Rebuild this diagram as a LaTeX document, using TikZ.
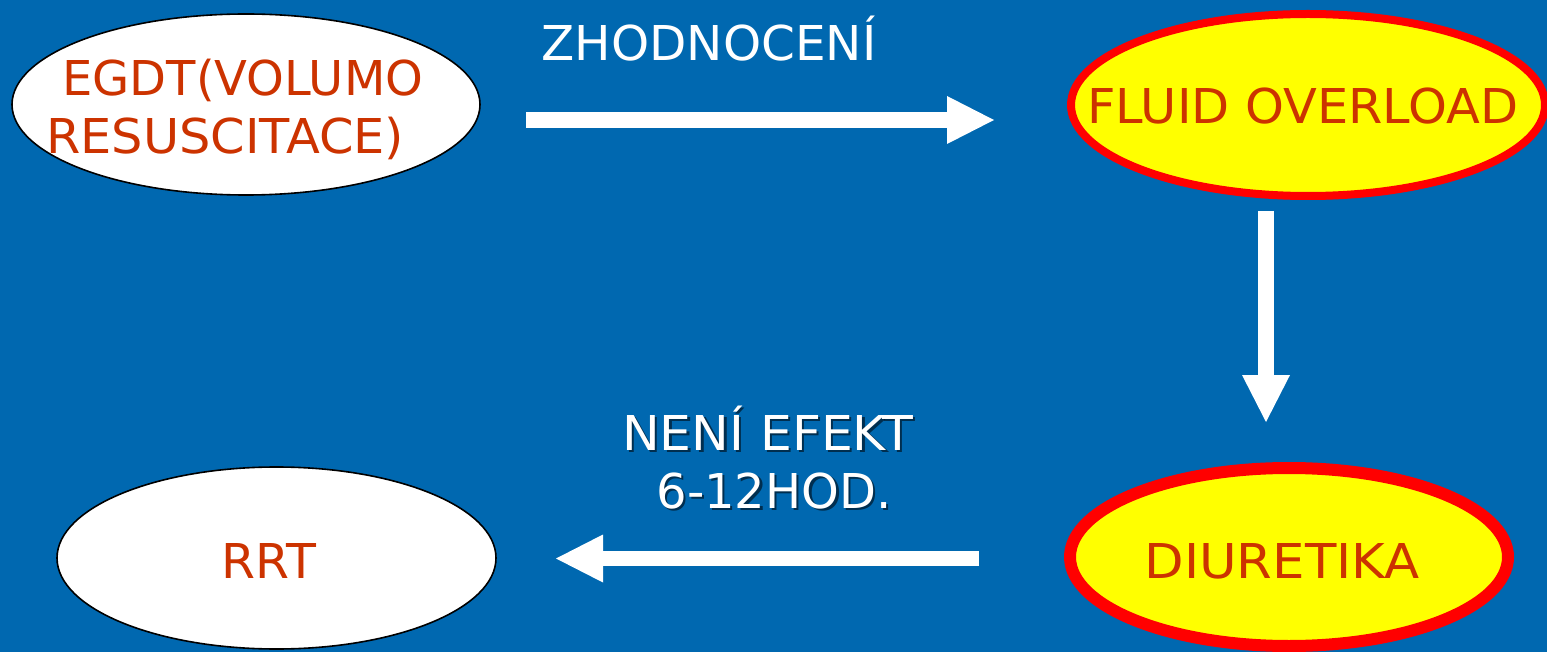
\documentclass[tikz,border=0pt]{standalone}
\usepackage{fontspec}
\setmainfont{DejaVu Sans}
\usetikzlibrary{shapes.geometric,arrows.meta}

\definecolor{slideblue}{RGB}{0,104,176}
\definecolor{labelred}{RGB}{204,51,0}
\definecolor{hotred}{RGB}{255,0,0}
\definecolor{hotyellow}{RGB}{255,255,0}

\tikzset{
  plainoval/.style={ellipse, draw=black, line width=1.6pt, fill=white, inner sep=0pt},
  alertoval/.style={ellipse, draw=hotred, fill=hotyellow, inner sep=0pt},
  ovaltext/.style={text=labelred, inner sep=0pt, anchor=base,
    font=\fontsize{48}{58}\selectfont},
  captext/.style={text=white, inner sep=0pt, anchor=base,
    font=\fontsize{48}{58}\selectfont},
  shadowtext/.style={captext, text=black, opacity=0.55},
  blockarrow/.style={draw=white, line width=16pt,
    -{Triangle[length=47pt,width=48pt,line width=0pt]}}
}
% horizontal stretch of a label
\newcommand{\wide}[2]{\scalebox{#1}[1]{#2}}

\begin{document}
\begin{tikzpicture}[x=1pt,y=-1pt]
  % slide background
  \fill[slideblue] (0,0) rectangle (1547,652);
  \useasboundingbox (0,0) rectangle (1547,652);

  % ovals
  \node[plainoval, minimum width=468pt, minimum height=181pt] (egdt) at (246,104.5) {};
  \node[alertoval, line width=8pt, minimum width=474pt, minimum height=182pt] (fluid) at (1308,105) {};
  \node[alertoval, line width=12pt, minimum width=438pt, minimum height=178pt] (diur) at (1289,557) {};
  \node[plainoval, minimum width=439pt, minimum height=182pt] (rrt) at (276.5,558) {};

  % oval labels
  \node[ovaltext, anchor=base west] (egdtA) at (62,96) {EGDT(VOLUMO};
  \node[ovaltext, anchor=base west] (egdtB) at (46,154) {\wide{1.03}{RESUSCITACE)}};
  \node[ovaltext] (fluidT) at (1303,124) {\wide{1.03}{FLUID OVERLOAD}};
  \node[ovaltext] (diurT) at (1282,578) {\wide{1.07}{DIURETIKA}};
  \node[ovaltext] (rrtT) at (269,578) {\wide{1.02}{RRT}};

  % flow arrows
  \coordinate (a1s) at (526,120);
  \coordinate (a1e) at (994,120);
  \coordinate (a2s) at (1266,211);
  \coordinate (a2e) at (1266,422);
  \coordinate (a3s) at (979,558.5);
  \coordinate (a3e) at (556,558.5);
  \draw[blockarrow] (a1s) -- (a1e);
  \draw[blockarrow] (a2s) -- (a2e);
  \draw[blockarrow, line width=15pt] (a3s) -- (a3e);

  % arrow captions
  \node[captext] (zhod) at (709,61) {\wide{1.01}{ZHODNOCENÍ}};
  \node[shadowtext] (neniS) at (770,452.5) {\wide{1.05}{NENÍ EFEKT}};
  \node[captext] (neni) at (767.5,450) {\wide{1.05}{NENÍ EFEKT}};
  \node[shadowtext] (hodS) at (776.5,510.5) {6-12HOD.};
  \node[captext] (hod) at (774,508) {6-12HOD.};
\end{tikzpicture}
\end{document}
